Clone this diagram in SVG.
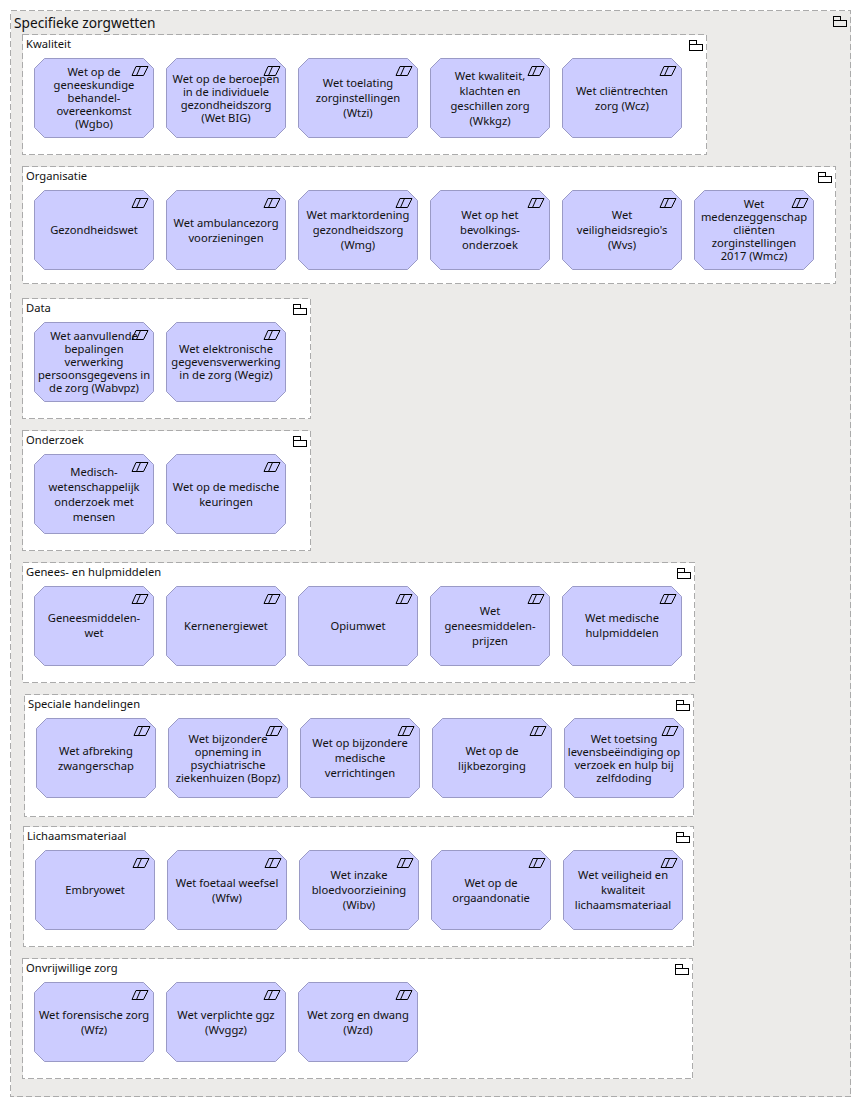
<svg xmlns="http://www.w3.org/2000/svg" width="861" height="1107" viewBox="0 0 861 1107">
<style>
text{font-family:"Noto Sans","Liberation Sans",sans-serif;font-size:11.2px;fill:#111}
.c text{text-anchor:middle}
.t{font-size:13.7px}
.b{fill:#fff;stroke:#ababab;stroke-dasharray:6 3;shape-rendering:crispEdges}
.o{fill:#ecebe9}
.s{fill:#ccf;stroke:#9a9ac6}
.i{fill:none;stroke:#000}
</style>
<defs>
<path id="n" class="s" d="M10.5 .5H109.5L119.5 10.5V69.5L109.5 79.5H10.5L.5 69.5V10.5Z"/>
<path id="p" class="i" d="M98 17.500L102 8.500H114L109.500 17.500ZM102.500 17.500L106.500 8.500"/>
<path id="f" class="i" d="M0 4.500V.5H6.500V4.500M0 4.500H13V10.500H0Z" shape-rendering="crispEdges"/>
</defs>
<g id="root"><rect class="b o" x="10.500" y="10.500" width="840" height="1086"/><use href="#f" x="833.500" y="16"/><text class="t" x="14" y="28">Specifieke zorgwetten</text></g>
<g id="g-kwaliteit"><rect class="b" x="22.500" y="34.500" width="684" height="120"/><use href="#f" x="689.500" y="40"/><text x="26" y="48">Kwaliteit</text></g>
<g id="g-organisatie"><rect class="b" x="22.500" y="166.500" width="813" height="117"/><use href="#f" x="818.500" y="172"/><text x="26" y="180">Organisatie</text></g>
<g id="g-data"><rect class="b" x="22.500" y="298.500" width="288" height="120"/><use href="#f" x="293.500" y="304"/><text x="26" y="312">Data</text></g>
<g id="g-onderzoek"><rect class="b" x="22.500" y="430.500" width="288" height="120"/><use href="#f" x="293.500" y="436"/><text x="26" y="444">Onderzoek</text></g>
<g id="g-genees"><rect class="b" x="22.500" y="562.500" width="672" height="120"/><use href="#f" x="677.500" y="568"/><text x="26" y="576">Genees- en hulpmiddelen</text></g>
<g id="g-speciale"><rect class="b" x="24.500" y="694.500" width="669" height="122"/><use href="#f" x="676.500" y="700"/><text x="28" y="708">Speciale handelingen</text></g>
<g id="g-lichaam"><rect class="b" x="23.500" y="826.500" width="670" height="120"/><use href="#f" x="676.500" y="832"/><text x="27" y="840">Lichaamsmateriaal</text></g>
<g id="g-onvrijwillig"><rect class="b" x="22.500" y="958.500" width="670" height="120"/><use href="#f" x="675.500" y="964"/><text x="26" y="972">Onvrijwillige zorg</text></g>

<g id="n-wgbo" class="c"><use href="#n" x="34" y="58"/><use href="#p" x="34" y="58"/><text x="94" y="76">Wet op de</text><text x="94" y="89">geneeskundige</text><text x="94" y="102">behandel-</text><text x="94" y="115">overeenkomst</text><text x="94" y="128">(Wgbo)</text></g>
<g id="n-big" class="c"><use href="#n" x="166" y="58"/><use href="#p" x="166" y="58"/><text x="226" y="83">Wet op de beroepen</text><text x="226" y="96">in de individuele</text><text x="226" y="109">gezondheidszorg</text><text x="226" y="122">(Wet BIG)</text></g>
<g id="n-wtzi" class="c"><use href="#n" x="298" y="58"/><use href="#p" x="298" y="58"/><text x="358" y="87">Wet toelating</text><text x="358" y="102">zorginstellingen</text><text x="358" y="117">(Wtzi)</text></g>
<g id="n-wkkgz" class="c"><use href="#n" x="430" y="58"/><use href="#p" x="430" y="58"/><text x="490" y="80">Wet kwaliteit,</text><text x="490" y="95">klachten en</text><text x="490" y="110">geschillen zorg</text><text x="490" y="125">(Wkkgz)</text></g>
<g id="n-wcz" class="c"><use href="#n" x="562" y="58"/><use href="#p" x="562" y="58"/><text x="622" y="95">Wet cliëntrechten</text><text x="622" y="110">zorg (Wcz)</text></g>

<g id="n-gezond" class="c"><use href="#n" x="34" y="190"/><use href="#p" x="34" y="190"/><text x="94" y="234">Gezondheidswet</text></g>
<g id="n-ambu" class="c"><use href="#n" x="166" y="190"/><use href="#p" x="166" y="190"/><text x="226" y="227">Wet ambulancezorg</text><text x="226" y="242">voorzieningen</text></g>
<g id="n-wmg" class="c"><use href="#n" x="298" y="190"/><use href="#p" x="298" y="190"/><text x="358" y="219">Wet marktordening</text><text x="358" y="234">gezondheidszorg</text><text x="358" y="249">(Wmg)</text></g>
<g id="n-bevolk" class="c"><use href="#n" x="430" y="190"/><use href="#p" x="430" y="190"/><text x="490" y="219">Wet op het</text><text x="490" y="234">bevolkings-</text><text x="490" y="249">onderzoek</text></g>
<g id="n-wvs" class="c"><use href="#n" x="562" y="190"/><use href="#p" x="562" y="190"/><text x="622" y="219">Wet</text><text x="622" y="234">veiligheidsregio's</text><text x="622" y="249">(Wvs)</text></g>
<g id="n-wmcz" class="c"><use href="#n" x="694" y="190"/><use href="#p" x="694" y="190"/><text x="754" y="208">Wet</text><text x="754" y="221">medenzeggenschap</text><text x="754" y="234">cliënten</text><text x="754" y="247">zorginstellingen</text><text x="754" y="260">2017 (Wmcz)</text></g>

<g id="n-wabvpz" class="c"><use href="#n" x="34" y="322"/><use href="#p" x="34" y="322"/><text x="94" y="340">Wet aanvullende</text><text x="94" y="353">bepalingen</text><text x="94" y="366">verwerking</text><text x="94" y="379">persoonsgegevens in</text><text x="94" y="392">de zorg (Wabvpz)</text></g>
<g id="n-wegiz" class="c"><use href="#n" x="166" y="322"/><use href="#p" x="166" y="322"/><text x="226" y="353">Wet elektronische</text><text x="226" y="366">gegevensverwerking</text><text x="226" y="379">in de zorg (Wegiz)</text></g>

<g id="n-medisch" class="c"><use href="#n" x="34" y="454"/><use href="#p" x="34" y="454"/><text x="94" y="476">Medisch-</text><text x="94" y="491">wetenschappelijk</text><text x="94" y="506">onderzoek met</text><text x="94" y="521">mensen</text></g>
<g id="n-keuring" class="c"><use href="#n" x="166" y="454"/><use href="#p" x="166" y="454"/><text x="226" y="491">Wet op de medische</text><text x="226" y="506">keuringen</text></g>

<g id="n-geneesm" class="c"><use href="#n" x="34" y="586"/><use href="#p" x="34" y="586"/><text x="94" y="622">Geneesmiddelen-</text><text x="94" y="637">wet</text></g>
<g id="n-kern" class="c"><use href="#n" x="166" y="586"/><use href="#p" x="166" y="586"/><text x="226" y="630">Kernenergiewet</text></g>
<g id="n-opium" class="c"><use href="#n" x="298" y="586"/><use href="#p" x="298" y="586"/><text x="358" y="630">Opiumwet</text></g>
<g id="n-prijzen" class="c"><use href="#n" x="430" y="586"/><use href="#p" x="430" y="586"/><text x="490" y="615">Wet</text><text x="490" y="630">geneesmiddelen-</text><text x="490" y="645">prijzen</text></g>
<g id="n-hulpm" class="c"><use href="#n" x="562" y="586"/><use href="#p" x="562" y="586"/><text x="622" y="622">Wet medische</text><text x="622" y="637">hulpmiddelen</text></g>

<g id="n-afbreking" class="c"><use href="#n" x="36" y="718"/><use href="#p" x="36" y="718"/><text x="96" y="755">Wet afbreking</text><text x="96" y="770">zwangerschap</text></g>
<g id="n-bopz" class="c"><use href="#n" x="168" y="718"/><use href="#p" x="168" y="718"/><text x="228" y="743">Wet bijzondere</text><text x="228" y="756">opneming in</text><text x="228" y="769">psychiatrische</text><text x="228" y="782">ziekenhuizen (Bopz)</text></g>
<g id="n-verricht" class="c"><use href="#n" x="300" y="718"/><use href="#p" x="300" y="718"/><text x="360" y="747">Wet op bijzondere</text><text x="360" y="762">medische</text><text x="360" y="777">verrichtingen</text></g>
<g id="n-lijk" class="c"><use href="#n" x="432" y="718"/><use href="#p" x="432" y="718"/><text x="492" y="755">Wet op de</text><text x="492" y="770">lijkbezorging</text></g>
<g id="n-toetsing" class="c"><use href="#n" x="564" y="718"/><use href="#p" x="564" y="718"/><text x="624" y="743">Wet toetsing</text><text x="624" y="756">levensbeëindiging op</text><text x="624" y="769">verzoek en hulp bij</text><text x="624" y="782">zelfdoding</text></g>

<g id="n-embryo" class="c"><use href="#n" x="35" y="850"/><use href="#p" x="35" y="850"/><text x="95" y="894">Embryowet</text></g>
<g id="n-wfw" class="c"><use href="#n" x="167" y="850"/><use href="#p" x="167" y="850"/><text x="227" y="887">Wet foetaal weefsel</text><text x="227" y="902">(Wfw)</text></g>
<g id="n-wibv" class="c"><use href="#n" x="299" y="850"/><use href="#p" x="299" y="850"/><text x="359" y="879">Wet inzake</text><text x="359" y="894">bloedvoorzieining</text><text x="359" y="909">(Wibv)</text></g>
<g id="n-orgaan" class="c"><use href="#n" x="431" y="850"/><use href="#p" x="431" y="850"/><text x="491" y="887">Wet op de</text><text x="491" y="902">orgaandonatie</text></g>
<g id="n-lich" class="c"><use href="#n" x="563" y="850"/><use href="#p" x="563" y="850"/><text x="623" y="879">Wet veiligheid en</text><text x="623" y="894">kwaliteit</text><text x="623" y="909">lichaamsmateriaal</text></g>

<g id="n-wfz" class="c"><use href="#n" x="34" y="982"/><use href="#p" x="34" y="982"/><text x="94" y="1019">Wet forensische zorg</text><text x="94" y="1034">(Wfz)</text></g>
<g id="n-wvggz" class="c"><use href="#n" x="166" y="982"/><use href="#p" x="166" y="982"/><text x="226" y="1019">Wet verplichte ggz</text><text x="226" y="1034">(Wvggz)</text></g>
<g id="n-wzd" class="c"><use href="#n" x="298" y="982"/><use href="#p" x="298" y="982"/><text x="358" y="1019">Wet zorg en dwang</text><text x="358" y="1034">(Wzd)</text></g>
</svg>
